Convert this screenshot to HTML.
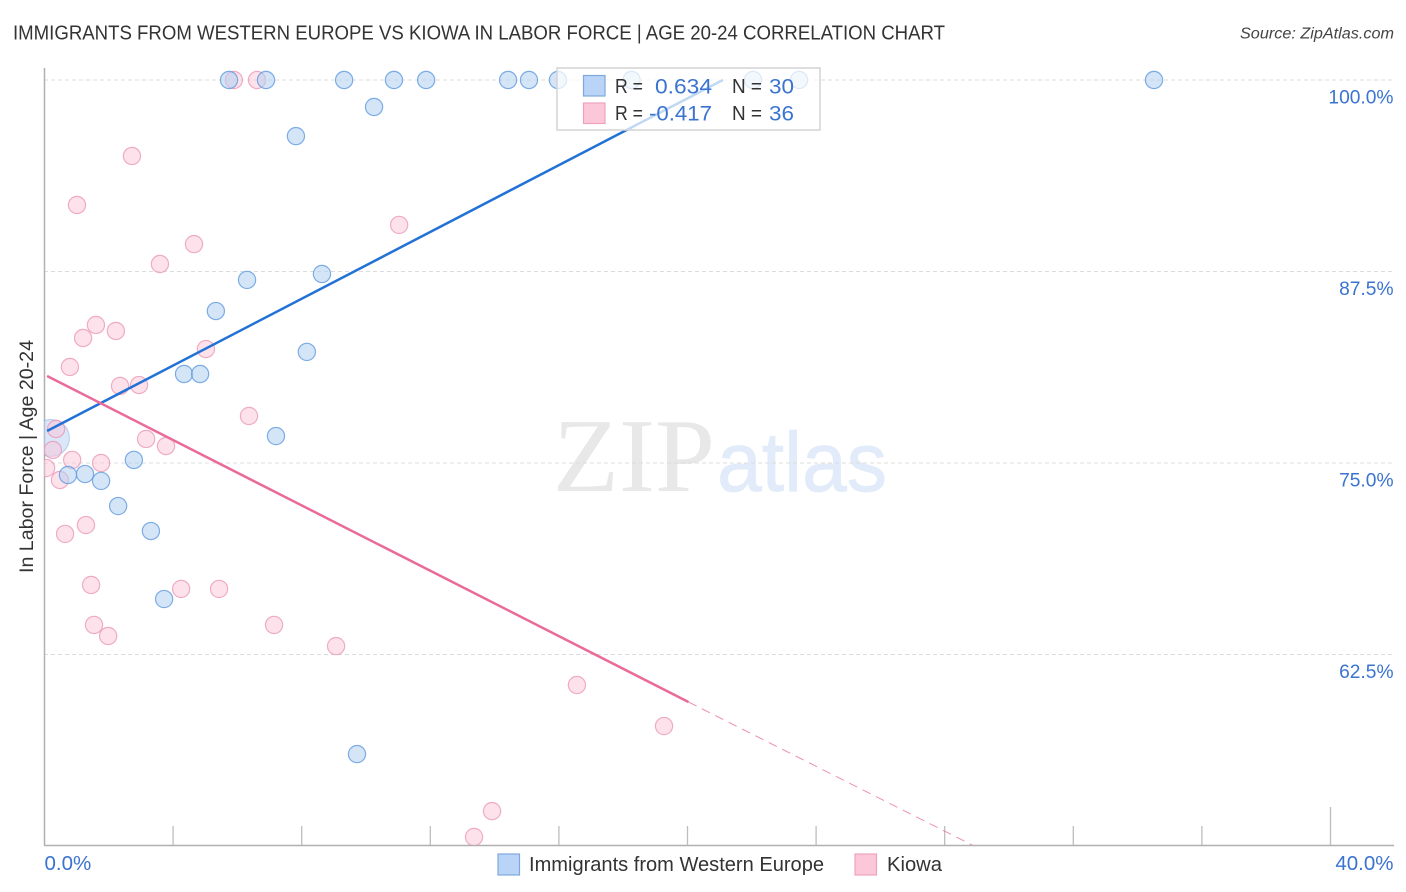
<!DOCTYPE html>
<html lang="en">
<head>
<meta charset="utf-8">
<title>Immigrants from Western Europe vs Kiowa in Labor Force | Age 20-24 Correlation Chart</title>
<style>
html,body{margin:0;padding:0;background:#fff;width:1406px;height:892px;overflow:hidden}
svg{display:block;font-family:"Liberation Sans",sans-serif}
</style>
</head>
<body>
<svg id="chart" width="1406" height="892" viewBox="0 0 1406 892">
<defs><clipPath id="plot-clip"><rect x="44" y="60" width="1350" height="785"></rect></clipPath></defs>
<text x="13" y="39.500" font-size="20" fill="#333" textLength="932" lengthAdjust="spacingAndGlyphs">IMMIGRANTS FROM WESTERN EUROPE VS KIOWA IN LABOR FORCE | AGE 20-24 CORRELATION CHART</text>
<text x="1394" y="38.500" font-size="15.500" font-style="italic" fill="#444" text-anchor="end" textLength="154" lengthAdjust="spacingAndGlyphs">Source: ZipAtlas.com</text>
<g>
<text x="553" y="491" font-family="'Liberation Serif',serif" font-size="105" fill="#e8e8e8" textLength="162" lengthAdjust="spacingAndGlyphs">ZIP</text>
<text x="717" y="491" font-size="84" fill="#e2ebf9" stroke="#e2ebf9" stroke-width="0.8" textLength="170" lengthAdjust="spacingAndGlyphs">atlas</text>
</g>
<g id="grid"></g>
<g id="axes"></g>
<g id="points" clip-path="url(#plot-clip)"></g>
<g id="lines" clip-path="url(#plot-clip)"></g>
<text transform="translate(33,456.500) rotate(-90)" font-size="19" fill="#333" text-anchor="middle" textLength="233" lengthAdjust="spacingAndGlyphs">In Labor Force | Age 20-24</text>
<g>
<rect x="557" y="68" width="263" height="62" fill="#fff" fill-opacity="0.72" stroke="#d4d4d4" stroke-width="1.500"></rect>
<rect x="583.500" y="75.500" width="21.500" height="20.500" fill="#b9d4f7" stroke="#7fa9dc" stroke-width="1.200"></rect>
<rect x="583.500" y="103" width="21.500" height="20.500" fill="#fcc8d9" stroke="#eda3bd" stroke-width="1.200"></rect>
<g font-size="20" fill="#333">
<text x="615" y="93" textLength="28" lengthAdjust="spacingAndGlyphs">R =</text>
<text x="615" y="120" textLength="28" lengthAdjust="spacingAndGlyphs">R =</text>
<text x="732" y="93" textLength="30" lengthAdjust="spacingAndGlyphs">N =</text>
<text x="732" y="120" textLength="30" lengthAdjust="spacingAndGlyphs">N =</text>
</g>
<g font-size="21" fill="#3a73d0">
<text x="655" y="93.500" textLength="57" lengthAdjust="spacingAndGlyphs">0.634</text>
<text x="649" y="120.500" textLength="63" lengthAdjust="spacingAndGlyphs">-0.417</text>
<text x="769" y="93.500" textLength="25" lengthAdjust="spacingAndGlyphs">30</text>
<text x="769" y="120.500" textLength="25" lengthAdjust="spacingAndGlyphs">36</text>
</g>
</g>
<g>
<g>
<rect x="498" y="854" width="21.500" height="21" fill="#b9d4f7" stroke="#7fa9dc" stroke-width="1.200"></rect>
<text x="529" y="871" font-size="20" fill="#333" textLength="295" lengthAdjust="spacingAndGlyphs">Immigrants from Western Europe</text>
</g>
<g>
<rect x="855" y="854" width="21.500" height="21" fill="#fcc8d9" stroke="#eda3bd" stroke-width="1.200"></rect>
<text x="887" y="871" font-size="20" fill="#333" textLength="55" lengthAdjust="spacingAndGlyphs">Kiowa</text>
</g>
</g>
</svg>
<script>
var yTicks = [100, 87.5, 75, 62.5];
var yTickLabels = ["100.0%", "87.5%", "75.0%", "62.5%"];
var xTicks = [0, 4, 8, 12, 16, 20, 24, 28, 32, 36, 40];
var xEndLabels = ["0.0%", "40.0%"];

var blueX = [5.74, 6.89, 9.32, 10.87, 11.87, 14.42, 15.07, 15.97, 18.26, 22.04, 23.47, 34.51, 10.25, 7.82, 6.30, 8.63, 5.33, 8.16, 4.34, 4.84, 7.20, 2.78, 1.26, 0.73, 1.76, 2.29, 3.31, 3.72, 9.72, 0.20];
var blueY = [100, 100, 100, 100, 100, 100, 100, 100, 100, 100, 100, 100, 98.24, 96.34, 86.95, 87.34, 84.92, 82.25, 80.81, 80.81, 76.76, 75.20, 74.28, 74.22, 73.83, 72.19, 70.56, 66.12, 56.00, 76.63];
var blueWeight = [1, 1, 1, 1, 1, 1, 1, 1, 1, 1, 1, 1, 1, 1, 1, 1, 1, 1, 1, 1, 1, 1, 1, 1, 1, 1, 1, 1, 1, 4];

var pinkX = [5.89, 6.61, 2.72, 1.01, 11.03, 4.65, 3.59, 1.60, 1.20, 2.22, 5.02, 0.79, 2.35, 2.94, 6.36, 3.16, 3.78, 0.36, 0.26, 0.86, 1.76, 0.05, 0.48, 1.29, 0.64, 1.45, 4.25, 5.43, 1.54, 1.98, 7.14, 9.07, 16.56, 19.27, 13.92, 13.36];
var pinkY = [100, 100, 95.04, 91.84, 90.54, 89.29, 87.99, 84.01, 83.16, 83.62, 82.44, 81.27, 80.03, 80.09, 78.07, 76.57, 76.11, 77.22, 75.85, 75.20, 75.00, 74.67, 73.89, 70.95, 70.37, 67.04, 66.78, 66.78, 64.43, 63.71, 64.43, 63.05, 60.51, 57.83, 52.28, 50.59];

var blueTrendX = [0.08, 21.10];
var blueTrendY = [77.09, 100];
var pinkTrendX = [0.08, 20.03];
var pinkTrendY = [80.68, 59.40];
var pinkTrendExtX = [20.03, 28.85];
var pinkTrendExtY = [59.40, 50.07];

var NS = "http://www.w3.org/2000/svg";
function xScale(v) { return 44.5 + v * 32.15; }
function yScale(v) { return 80 + (100 - v) * 15.32; }
function make(parent, tag, attrs) {
  var el = document.createElementNS(NS, tag);
  for (var k in attrs) el.setAttribute(k, attrs[k]);
  parent.appendChild(el);
  return el;
}

var grid = document.getElementById("grid");
var axes = document.getElementById("axes");
var points = document.getElementById("points");
var lines = document.getElementById("lines");

yTicks.forEach(function (t, i) {
  var g = make(grid, "line", {x1: 44, x2: 1394, y1: yScale(t), y2: yScale(t), stroke: "#dcdcdc", "stroke-width": 1, "stroke-dasharray": "4 3"});
  
  
  var l = make(axes, "text", {x: 1393.5, y: yScale(t) + 23.5, "text-anchor": "end", "font-size": 19.2, fill: "#3a73d0"});
  l.textContent = yTickLabels[i];
  
  
});

var yAxis = make(axes, "line", {x1: 44.5, x2: 44.5, y1: 68, y2: 845.5, stroke: "#b0b0b0", "stroke-width": 1.5});


var xAxis = make(axes, "line", {x1: 44, x2: 1394, y1: 845.5, y2: 845.5, stroke: "#b0b0b0", "stroke-width": 1.5});



xTicks.forEach(function (t, i) {
  if (i === 0) return;
  var last = i === xTicks.length - 1;
  var tick = make(axes, "line", {x1: xScale(t), x2: xScale(t), y1: last ? 807 : 826, y2: 845, stroke: "#bdbdbd", "stroke-width": 1.3});
  
  
});

var xl0 = make(axes, "text", {x: xScale(0), y: 870, "font-size": 20.5, fill: "#3a73d0"});
xl0.textContent = xEndLabels[0];


var xl1 = make(axes, "text", {x: 1393.5, y: 870, "text-anchor": "end", "font-size": 20.5, fill: "#3a73d0"});
xl1.textContent = xEndLabels[1];



function drawBlue(v, i) {
  var big = blueWeight[i] > 1;
  var c = make(points, "circle", {cx: xScale(v), cy: yScale(blueY[i]), r: big ? 18.5 : 8.6, fill: "#b3cff2", "fill-opacity": big ? 0.5 : 0.55, stroke: "#5f9ade", "stroke-opacity": big ? 0.35 : 0.8, "stroke-width": 1.2});
  
  
}
blueX.forEach(function (v, i) { if (blueWeight[i] > 1) drawBlue(v, i); });
pinkX.forEach(function (v, i) {
  var c = make(points, "circle", {cx: xScale(v), cy: yScale(pinkY[i]), r: 8.6, fill: "#fbc6d8", "fill-opacity": 0.5, stroke: "#eb9ab6", "stroke-opacity": 0.8, "stroke-width": 1.2});
  
  
});
blueX.forEach(function (v, i) { if (blueWeight[i] === 1) drawBlue(v, i); });

var blueLine = make(lines, "line", {x1: xScale(blueTrendX[0]), y1: yScale(blueTrendY[0]), x2: xScale(blueTrendX[1]), y2: yScale(blueTrendY[1]), stroke: "#2272d6", "stroke-width": 2.5});


var pinkLine = make(lines, "line", {x1: xScale(pinkTrendX[0]), y1: yScale(pinkTrendY[0]), x2: xScale(pinkTrendX[1]), y2: yScale(pinkTrendY[1]), stroke: "#ea6a9a", "stroke-width": 2.5});


var pinkExt = make(lines, "line", {x1: xScale(pinkTrendExtX[0]), y1: yScale(pinkTrendExtY[0]), x2: xScale(pinkTrendExtX[1]), y2: yScale(pinkTrendExtY[1]), stroke: "#ea6a9a", "stroke-width": 1, "stroke-dasharray": "9 6", "stroke-opacity": 0.75});


</script>
</body>
</html>
